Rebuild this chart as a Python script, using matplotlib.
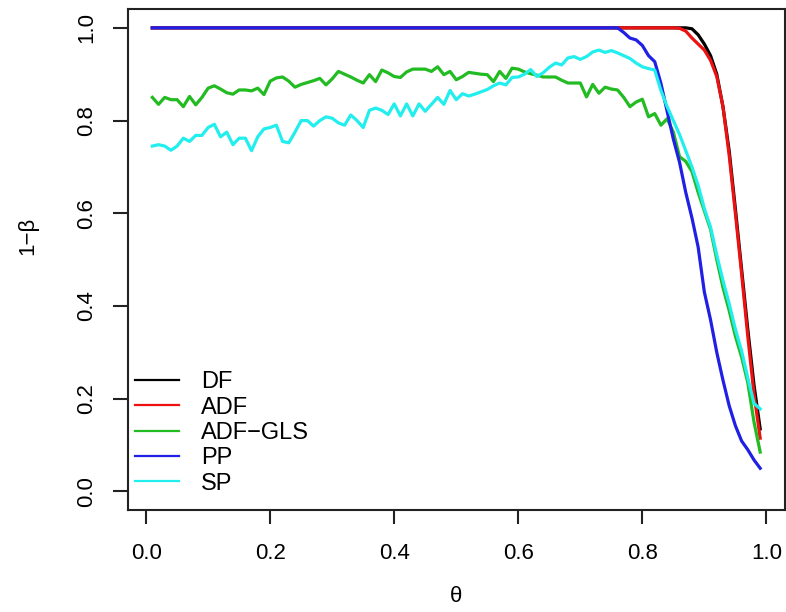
import numpy as np
import matplotlib
matplotlib.use("Agg")
import matplotlib.pyplot as plt
from matplotlib.lines import Line2D

plt.rcParams['font.family'] = ['Liberation Sans', 'DejaVu Sans']

theta = np.round(np.arange(1, 100) / 100, 2)

df = [1.0] * 87 + [0.998, 0.985, 0.965, 0.94, 0.9, 0.83, 0.735, 0.61, 0.48, 0.35, 0.23, 0.135]
adf = [1.0] * 85 + [0.999, 0.993, 0.978, 0.965, 0.952, 0.93, 0.895, 0.83, 0.725, 0.6, 0.47, 0.335, 0.21, 0.115]
pp = [1.0] * 76 + [0.99, 0.978, 0.974, 0.962, 0.94, 0.927, 0.88, 0.82, 0.76, 0.71, 0.645, 0.59,
                   0.527, 0.43, 0.37, 0.3, 0.24, 0.185, 0.142, 0.109, 0.09, 0.068, 0.05]
adf_gls = [
    0.85, 0.835, 0.85, 0.845, 0.845, 0.83, 0.852, 0.834, 0.85, 0.87,
    0.875, 0.868, 0.86, 0.857, 0.866, 0.866, 0.864, 0.87, 0.856, 0.885,
    0.892, 0.894, 0.885, 0.872, 0.878, 0.882, 0.886, 0.891, 0.877, 0.89,
    0.906, 0.9, 0.894, 0.887, 0.881, 0.899, 0.884, 0.909, 0.903, 0.895,
    0.893, 0.905, 0.911, 0.911, 0.911, 0.906, 0.916, 0.899, 0.906, 0.888,
    0.895, 0.904, 0.902, 0.9, 0.899, 0.884, 0.906, 0.891, 0.913, 0.911,
    0.905, 0.901, 0.898, 0.894, 0.894, 0.894, 0.887, 0.881, 0.881, 0.881,
    0.851, 0.878, 0.859, 0.872, 0.868, 0.866, 0.85, 0.83, 0.84, 0.846,
    0.808, 0.815, 0.79, 0.804, 0.775, 0.722, 0.712, 0.69, 0.645, 0.605,
    0.565, 0.5, 0.44, 0.39, 0.335, 0.29, 0.235, 0.15, 0.085]
sp = [
    0.745, 0.748, 0.745, 0.736, 0.745, 0.762, 0.755, 0.768, 0.768, 0.785,
    0.792, 0.765, 0.775, 0.748, 0.762, 0.762, 0.735, 0.765, 0.782, 0.785,
    0.79, 0.755, 0.752, 0.775, 0.8, 0.8, 0.788, 0.8, 0.808, 0.805,
    0.795, 0.79, 0.812, 0.8, 0.785, 0.822, 0.827, 0.822, 0.813, 0.836,
    0.81, 0.836, 0.81, 0.836, 0.82, 0.835, 0.85, 0.835, 0.865, 0.845,
    0.858, 0.853, 0.857, 0.862, 0.867, 0.875, 0.881, 0.877, 0.893, 0.894,
    0.9, 0.91, 0.895, 0.903, 0.915, 0.924, 0.92, 0.935, 0.938, 0.932,
    0.938, 0.948, 0.952, 0.947, 0.951, 0.946, 0.94, 0.934, 0.924, 0.916,
    0.912, 0.909, 0.865, 0.83, 0.8, 0.77, 0.735, 0.7, 0.66, 0.61,
    0.57, 0.51, 0.455, 0.405, 0.35, 0.303, 0.245, 0.19, 0.178]

labels = ['DF', 'ADF', 'ADF\u2212GLS', 'PP', 'SP']
colors = ['#000000', '#ee1111', '#22bb22', '#1f1fe6', '#22eeee']
series = [df, adf, adf_gls, pp, sp]
xticks = [0.0, 0.2, 0.4, 0.6, 0.8, 1.0]
yticks = [0.0, 0.2, 0.4, 0.6, 0.8, 1.0]

fig = plt.figure(figsize=(7.86, 6.12), dpi=100)
ax = fig.add_axes([128 / 786, 102 / 612, 656.5 / 786, 500.7 / 612])

for vals, c in zip(series, colors):
    ax.plot(theta, vals, color=c, lw=2.3, solid_joinstyle='round')

ax.set_xlim(-0.0292, 1.0292)
ax.set_ylim(-0.04, 1.04)
ax.set_xticks(xticks)
ax.set_xticklabels([f'{t:.1f}' for t in xticks])
ax.set_yticks(yticks)
ax.set_yticklabels([f'{t:.1f}' for t in yticks], rotation=90, va='center')

ax.tick_params(axis='x', length=10, width=1.5, pad=14, labelsize=16, color='#222222')
ax.tick_params(axis='y', length=10.5, width=1.5, pad=12, labelsize=16, color='#222222')
for s in ax.spines.values():
    s.set_linewidth(1.5)
    s.set_color('#222222')

ax.set_xlabel('\u03b8', fontsize=16, va='center')
ax.xaxis.set_label_coords(0.5, -0.172)
ax.set_ylabel('1\u2212\u03b2', fontsize=16, va='center')
ax.yaxis.set_label_coords(-0.152, 0.547)

handles = [Line2D([], [], color=c, lw=1.6) for c in colors]
ax.legend(handles, labels, loc='upper left', bbox_to_anchor=(0.011, 0.277),
          frameon=False, fontsize=17, handlelength=1.85, handletextpad=0.95,
          labelspacing=0.14, borderpad=0, borderaxespad=0)

fig.savefig('out.png', dpi=100)
